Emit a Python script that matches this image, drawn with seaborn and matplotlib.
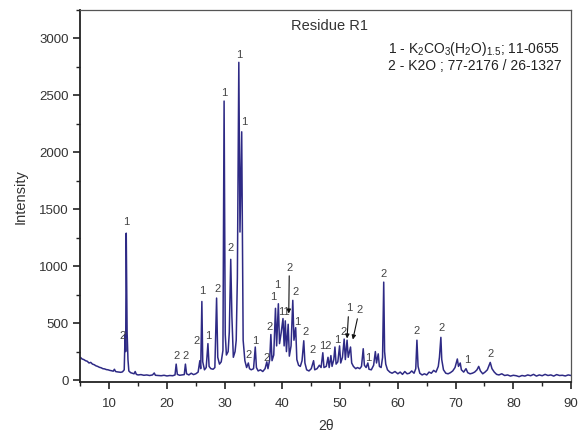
import matplotlib
matplotlib.use("Agg")
import matplotlib.pyplot as plt
import seaborn as sns
import pandas as pd
from matplotlib.ticker import MultipleLocator

# ---- data ----
two_theta = [
    5.0, 5.3, 5.6, 5.9, 6.2, 6.5, 6.8, 7.1, 7.4, 7.7, 8.0, 8.3, 8.6, 8.9, 9.2, 9.5, 9.8,
    10.1, 10.4, 10.7, 10.9, 11.1, 11.4, 11.7, 12.0, 12.3, 12.6, 12.75, 12.85, 12.95, 13.1,
    13.25, 13.4, 13.7, 14.0, 14.3, 14.5, 14.7, 15.0, 15.5, 16.0, 16.5, 17.0, 17.5, 17.8,
    18.0, 18.5, 19.0, 19.5, 20.0, 20.5, 21.0, 21.4, 21.6, 21.8, 22.2, 22.6, 23.0, 23.2,
    23.4, 23.8, 24.2, 24.6, 25.0, 25.4, 25.7, 25.85, 26.05, 26.2, 26.5, 26.8, 27.1, 27.3,
    27.6, 28.0, 28.3, 28.6, 28.8, 29.1, 29.4, 29.7, 29.9, 30.1, 30.3, 30.6, 30.8, 31.05,
    31.25, 31.5, 31.8, 32.0, 32.2, 32.45, 32.65, 32.95, 33.2, 33.5, 33.8, 34.1, 34.3,
    34.6, 35.0, 35.3, 35.5, 35.8, 36.2, 36.6, 37.0, 37.3, 37.5, 37.8, 38.0, 38.2, 38.5,
    38.8, 39.0, 39.3, 39.5, 39.8, 40.1, 40.3, 40.5, 40.7, 41.0, 41.2, 41.5, 41.8, 42.0,
    42.3, 42.5, 42.8, 43.1, 43.4, 43.7, 43.9, 44.2, 44.6, 45.0, 45.4, 45.6, 46.0, 46.4,
    46.7, 47.0, 47.2, 47.6, 47.9, 48.1, 48.4, 48.6, 48.9, 49.1, 49.3, 49.6, 49.9, 50.1,
    50.4, 50.7, 50.9, 51.2, 51.4, 51.8, 52.0, 52.3, 52.7, 53.0, 53.4, 53.7, 54.0, 54.2,
    54.5, 54.8, 55.0, 55.4, 55.8, 56.1, 56.3, 56.6, 56.8, 57.1, 57.35, 57.55, 57.7, 57.9,
    58.2, 58.6, 59.0, 59.5, 60.0, 60.4, 60.8, 61.2, 61.6, 62.0, 62.4, 62.8, 63.1, 63.3,
    63.5, 63.8, 64.2, 64.6, 65.0, 65.4, 65.8, 66.2, 66.6, 67.0, 67.2, 67.45, 67.6, 67.9,
    68.3, 68.7, 69.1, 69.5, 69.9, 70.3, 70.5, 70.8, 71.0, 71.4, 71.8, 72.1, 72.5, 72.9,
    73.3, 73.7, 74.0, 74.3, 74.7, 75.1, 75.5, 75.8, 76.0, 76.3, 76.7, 77.1, 77.5, 78.0,
    78.5, 79.0, 79.5, 80.0, 80.5, 81.0, 81.5, 82.0, 82.5, 83.0, 83.5, 84.0, 84.5, 85.0,
    85.5, 86.0, 86.5, 87.0, 87.5, 88.0, 88.5, 89.0, 89.5, 90.0,
]
intensity = [
    200, 185, 180, 170, 165, 150, 155, 140, 135, 125, 120, 112, 108, 100, 98, 92, 90,
    85, 82, 78, 95, 75, 72, 70, 68, 72, 90, 400, 250, 1290, 420,
    180, 80, 65, 60, 55, 75, 50, 45, 48, 42, 45, 40, 45, 62,
    42, 40, 38, 42, 36, 40, 38, 45, 140, 50, 42, 45, 48, 140,
    55, 45, 60, 48, 55, 70, 170, 100, 690, 160, 90, 110, 320, 120,
    100, 95, 110, 720, 200, 140, 160, 260, 2450, 400, 220, 250, 420, 1060,
    560, 200, 250, 350, 900, 2790, 1300, 2180, 350, 170, 110, 150, 100,
    90, 100, 290, 110, 80, 90, 75, 100, 160, 100, 180, 400, 170, 220,
    630, 300, 670, 320, 420, 540, 300, 520, 250, 490, 210, 300, 700, 350,
    460, 180, 130, 120, 170, 345, 150, 90, 80, 100, 170, 90, 100, 130,
    110, 240, 110, 120, 200, 110, 215, 120, 180, 290, 140, 160, 300, 150,
    200, 360, 180, 350, 200, 290, 150, 120, 100, 110, 100, 120, 275, 130,
    110, 150, 95, 90, 130, 250, 150, 230, 120, 110, 200, 860, 250, 140,
    90, 70, 60, 75, 55, 70, 50, 75, 55, 60, 80, 60, 100, 350,
    120, 60, 45, 55, 45, 70, 60, 85, 70, 120, 200, 375, 180, 90,
    60, 55, 65, 80, 110, 185, 120, 150, 90, 70, 100, 65, 55, 60,
    70, 90, 120, 80, 55, 70, 90, 130, 155, 100, 70, 50, 45, 55,
    40, 45, 35, 42, 38, 30, 40, 35, 45, 38, 50, 35, 45, 38,
    50, 40, 45, 35, 48, 40, 42, 36, 45, 40,
]

# peak annotation labels (text, 2theta, intensity position)
label_text = ["1", "2", "2", "2", "2", "1", "1", "2", "1", "1", "1", "2", "2", "1",
              "2", "2", "1", "1", "11", "2", "1", "2", "2", "12", "1", "2", "1",
              "2", "2", "2", "1", "2"]
label_x = [13.0, 12.3, 21.6, 23.3, 25.2, 26.1, 27.1, 28.7, 29.9, 32.5, 33.4, 31.1, 34.1, 35.3,
           37.2, 37.8, 38.4, 39.1, 40.2, 42.3, 42.6, 44.0, 45.2, 47.4, 49.5, 50.6, 54.8,
           57.6, 63.3, 67.5, 72.0, 76.0]
label_y = [1385, 391, 207, 207, 347, 778, 391, 796, 2520, 2855, 2265, 1156, 224, 347,
           198, 462, 726, 831, 602, 770, 506, 418, 268, 300, 350, 425, 198,
           930, 427, 453, 172, 233]

# arrow labels: text, label position, arrow tip
arrow_text = ["2", "1", "2"]
arrow_label_x = [41.2, 51.5, 53.3]
arrow_label_y = [944, 585, 567]
arrow_tip_x = [41.1, 51.2, 52.2]
arrow_tip_y = [584, 365, 356]

legend_lines = [r"1 - K$_2$CO$_3$(H$_2$O)$_{1.5}$; 11-0655", "2 - K2O ; 77-2176 / 26-1327"]

# ---- plotting ----
sns.set_theme(style="ticks")
plt.rcParams["font.family"] = ["Liberation Sans", "DejaVu Sans"]
plt.rcParams["mathtext.fontset"] = "custom"
plt.rcParams["mathtext.rm"] = "Liberation Sans"
plt.rcParams["mathtext.it"] = "Liberation Sans:italic"

fig = plt.figure(figsize=(5.78, 4.33), dpi=100)
ax = fig.add_axes([0.139, 0.117, 0.849, 0.86])

df = pd.DataFrame({"two_theta": two_theta, "intensity": intensity})
sns.lineplot(data=df, x="two_theta", y="intensity", ax=ax, sort=False, estimator=None,
             color="#2e2a85", linewidth=1.1)

ax.set_xlim(5, 90)
ax.set_ylim(-20, 3250)
ax.xaxis.set_minor_locator(MultipleLocator(5))
ax.yaxis.set_major_locator(MultipleLocator(500))
ax.yaxis.set_minor_locator(MultipleLocator(250))
ax.set_xticks(range(10, 91, 10))
ax.set_yticks(range(0, 3001, 500))
ax.tick_params(axis="both", which="major", direction="out", length=5, width=1.2,
               labelsize=9.5, colors="#222222", labelcolor="#333333")
ax.tick_params(axis="both", which="minor", direction="out", length=3, width=1.0,
               colors="#222222")
ax.tick_params(axis="x", pad=6)
for side in ["left", "bottom"]:
    ax.spines[side].set_linewidth(1.3)
    ax.spines[side].set_color("#222222")
for side in ["top", "right"]:
    ax.spines[side].set_linewidth(0.9)
    ax.spines[side].set_color("#555555")
    ax.spines[side].set_visible(True)

ax.set_xlabel("2θ", fontsize=10, color="#333333", labelpad=7)
ax.set_ylabel("Intensity", fontsize=10.5, color="#333333", labelpad=8)

for t, x, y in zip(label_text, label_x, label_y):
    ax.text(x, y, t, fontsize=8, color="#444444", ha="center", va="center")

for t, lx, ly, tx, ty in zip(arrow_text, arrow_label_x, arrow_label_y, arrow_tip_x, arrow_tip_y):
    ax.annotate(t, xy=(tx, ty), xytext=(lx, ly), fontsize=8, color="#444444",
                ha="center", va="bottom",
                arrowprops=dict(arrowstyle="-|>", color="#111111", lw=0.8,
                                mutation_scale=6, shrinkA=0, shrinkB=0))

ax.text(0.507, 0.958, "Residue R1", transform=ax.transAxes, ha="center", va="center",
        fontsize=10.5, color="#333333")
ax.text(0.626, 0.895, legend_lines[0], transform=ax.transAxes, ha="left", va="center",
        fontsize=10, color="#222222")
ax.text(0.626, 0.850, legend_lines[1], transform=ax.transAxes, ha="left", va="center",
        fontsize=10, color="#222222")

fig.savefig("out.png", dpi=100)
